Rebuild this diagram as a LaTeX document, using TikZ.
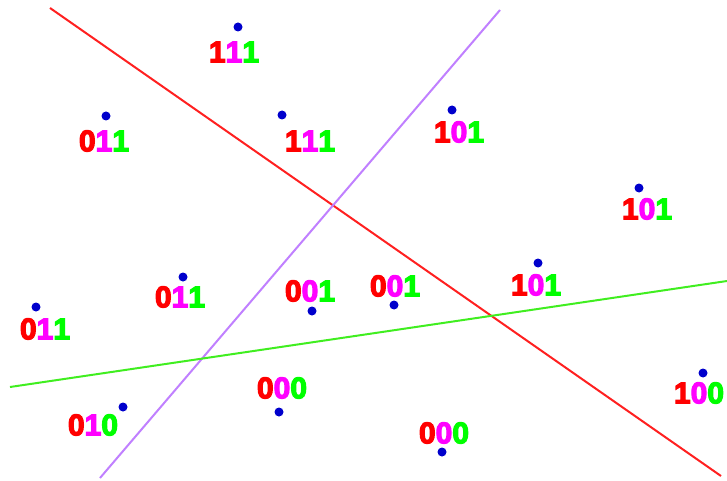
\documentclass[tikz,border=0pt]{standalone}
\usepackage{fontspec}
\usepackage{tikz}
\newfontfamily\bitfont{Liberation Sans}[UprightFont={* Bold}, FakeBold=4]
\definecolor{bitred}{HTML}{FF0000}
\definecolor{bitpink}{HTML}{FF00FF}
\definecolor{bitgreen}{HTML}{00FF00}
\definecolor{dotblue}{HTML}{0000CC}
\definecolor{cutred}{HTML}{FF2020}
\definecolor{cutviolet}{HTML}{C080FF}
\definecolor{cutgreen}{HTML}{40EE20}
\newcommand{\bits}[3]{{\fontsize{30}{32}\selectfont\bitfont\textcolor{bitred}{#1}\textcolor{bitpink}{#2}\textcolor{bitgreen}{#3}}}
\tikzset{
  pt/.style={circle, fill=dotblue, inner sep=0pt, minimum size=9pt},
  code/.style={inner sep=0pt},
  cut/.style={line width=2pt}
}

\begin{document}
\begin{tikzpicture}[x=1pt, y=-1pt]
\useasboundingbox (0,0) rectangle (727,481);
% separating lines
\coordinate (r1) at (50,8);    \coordinate (r2) at (721,476);
\coordinate (v1) at (500,10);  \coordinate (v2) at (100,478);
\coordinate (g1) at (10,387);  \coordinate (g2) at (727,281);
\draw[cut, cutred] (r1) -- (r2);
\draw[cut, cutviolet] (v1) -- (v2);
\draw[cut, cutgreen] (g1) -- (g2);
% points and their codes
\node[pt] (p1) at (238,27) {};   \node[code] (c1) at (234,52) {\bits{1}{1}{1}};
\node[pt] (p2) at (106,116) {};  \node[code] (c2) at (104,141) {\bits{0}{1}{1}};
\node[pt] (p3) at (282,115) {};  \node[code] (c3) at (310,141) {\bits{1}{1}{1}};
\node[pt] (p4) at (452,110) {};  \node[code] (c4) at (459,132) {\bits{1}{0}{1}};
\node[pt] (p5) at (639,188) {};  \node[code] (c5) at (647,209) {\bits{1}{0}{1}};
\node[pt] (p6) at (538,263) {};  \node[code] (c6) at (536,285) {\bits{1}{0}{1}};
\node[pt] (p7) at (183,277) {};  \node[code] (c7) at (180,297) {\bits{0}{1}{1}};
\node[pt] (p8) at (36,307) {};   \node[code] (c8) at (45,329) {\bits{0}{1}{1}};
\node[pt] (p9) at (312,311) {};  \node[code] (c9) at (310,291) {\bits{0}{0}{1}};
\node[pt] (p10) at (394,305) {}; \node[code] (c10) at (395,286) {\bits{0}{0}{1}};
\node[pt] (p11) at (279,412) {}; \node[code] (c11) at (282,388) {\bits{0}{0}{0}};
\node[pt] (p12) at (123,407) {}; \node[code] (c12) at (93,425) {\bits{0}{1}{0}};
\node[pt] (p13) at (442,452) {}; \node[code] (c13) at (444,433) {\bits{0}{0}{0}};
\node[pt] (p14) at (703,373) {}; \node[code] (c14) at (699,393) {\bits{1}{0}{0}};
\end{tikzpicture}
\end{document}
